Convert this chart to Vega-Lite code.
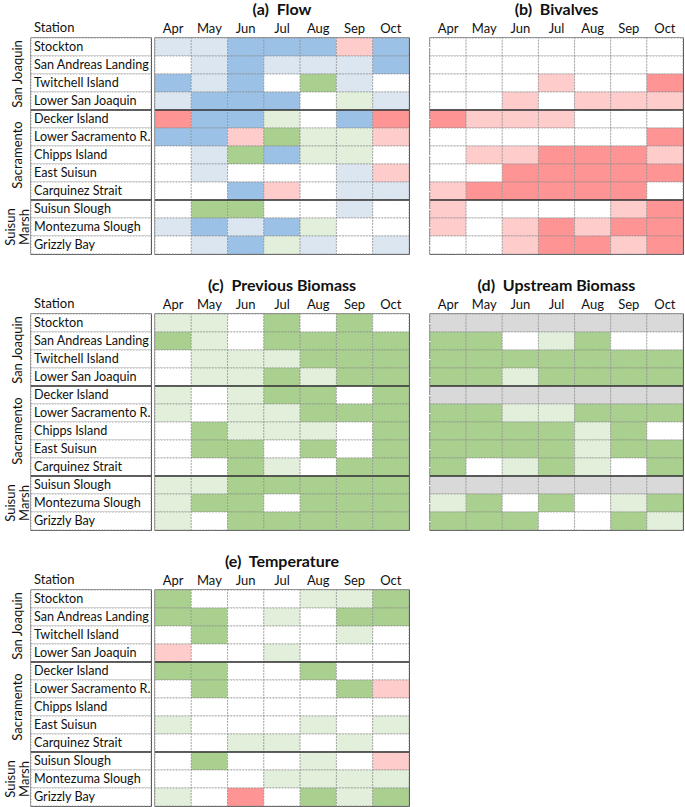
{
  "$schema": "https://vega.github.io/schema/vega-lite/v6.json",
  "padding": {"left": 3, "top": 1, "right": 0, "bottom": 0},
  "background": "white",
  "config": {
    "font": "Lato",
    "view": {"stroke": "#333333", "strokeWidth": 1.3},
    "scale": {"bandPaddingInner": 0, "bandPaddingOuter": 0},
    "axis": {"labelFont": "Lato", "labelColor": "#111111", "labelFontSize": 13, "domain": false, "ticks": false, "grid": false, "title": null},
    "title": {"font": "Lato", "fontSize": 16, "fontWeight": "bold", "color": "#111111", "offset": 4}
  },
  "datasets": {
    "stations": [
      {"s": "Stockton"}, {"s": "San Andreas Landing"}, {"s": "Twitchell Island"}, {"s": "Lower San Joaquin"},
      {"s": "Decker Island"}, {"s": "Lower Sacramento R."}, {"s": "Chipps Island"}, {"s": "East Suisun"},
      {"s": "Carquinez Strait"}, {"s": "Suisun Slough"}, {"s": "Montezuma Slough"}, {"s": "Grizzly Bay"}
    ],
    "flow": [
      {"s":"Stockton","m":"Apr","c":"B1"},{"s":"Stockton","m":"May","c":"B1"},{"s":"Stockton","m":"Jun","c":"B2"},{"s":"Stockton","m":"Jul","c":"B2"},{"s":"Stockton","m":"Aug","c":"B2"},{"s":"Stockton","m":"Sep","c":"R1"},{"s":"Stockton","m":"Oct","c":"B2"},
      {"s":"San Andreas Landing","m":"Apr","c":"N"},{"s":"San Andreas Landing","m":"May","c":"B1"},{"s":"San Andreas Landing","m":"Jun","c":"B2"},{"s":"San Andreas Landing","m":"Jul","c":"B1"},{"s":"San Andreas Landing","m":"Aug","c":"B1"},{"s":"San Andreas Landing","m":"Sep","c":"B1"},{"s":"San Andreas Landing","m":"Oct","c":"B2"},
      {"s":"Twitchell Island","m":"Apr","c":"B2"},{"s":"Twitchell Island","m":"May","c":"B1"},{"s":"Twitchell Island","m":"Jun","c":"B2"},{"s":"Twitchell Island","m":"Jul","c":"N"},{"s":"Twitchell Island","m":"Aug","c":"G2"},{"s":"Twitchell Island","m":"Sep","c":"B1"},{"s":"Twitchell Island","m":"Oct","c":"N"},
      {"s":"Lower San Joaquin","m":"Apr","c":"B1"},{"s":"Lower San Joaquin","m":"May","c":"B2"},{"s":"Lower San Joaquin","m":"Jun","c":"B2"},{"s":"Lower San Joaquin","m":"Jul","c":"B2"},{"s":"Lower San Joaquin","m":"Aug","c":"N"},{"s":"Lower San Joaquin","m":"Sep","c":"G1"},{"s":"Lower San Joaquin","m":"Oct","c":"B1"},
      {"s":"Decker Island","m":"Apr","c":"R2"},{"s":"Decker Island","m":"May","c":"B2"},{"s":"Decker Island","m":"Jun","c":"B2"},{"s":"Decker Island","m":"Jul","c":"G1"},{"s":"Decker Island","m":"Aug","c":"N"},{"s":"Decker Island","m":"Sep","c":"B2"},{"s":"Decker Island","m":"Oct","c":"R2"},
      {"s":"Lower Sacramento R.","m":"Apr","c":"B2"},{"s":"Lower Sacramento R.","m":"May","c":"B2"},{"s":"Lower Sacramento R.","m":"Jun","c":"R1"},{"s":"Lower Sacramento R.","m":"Jul","c":"G2"},{"s":"Lower Sacramento R.","m":"Aug","c":"G1"},{"s":"Lower Sacramento R.","m":"Sep","c":"G1"},{"s":"Lower Sacramento R.","m":"Oct","c":"R1"},
      {"s":"Chipps Island","m":"Apr","c":"N"},{"s":"Chipps Island","m":"May","c":"B1"},{"s":"Chipps Island","m":"Jun","c":"G2"},{"s":"Chipps Island","m":"Jul","c":"B2"},{"s":"Chipps Island","m":"Aug","c":"G1"},{"s":"Chipps Island","m":"Sep","c":"G1"},{"s":"Chipps Island","m":"Oct","c":"N"},
      {"s":"East Suisun","m":"Apr","c":"N"},{"s":"East Suisun","m":"May","c":"B1"},{"s":"East Suisun","m":"Jun","c":"N"},{"s":"East Suisun","m":"Jul","c":"N"},{"s":"East Suisun","m":"Aug","c":"N"},{"s":"East Suisun","m":"Sep","c":"B1"},{"s":"East Suisun","m":"Oct","c":"R1"},
      {"s":"Carquinez Strait","m":"Apr","c":"N"},{"s":"Carquinez Strait","m":"May","c":"N"},{"s":"Carquinez Strait","m":"Jun","c":"B2"},{"s":"Carquinez Strait","m":"Jul","c":"R1"},{"s":"Carquinez Strait","m":"Aug","c":"N"},{"s":"Carquinez Strait","m":"Sep","c":"B1"},{"s":"Carquinez Strait","m":"Oct","c":"B1"},
      {"s":"Suisun Slough","m":"Apr","c":"N"},{"s":"Suisun Slough","m":"May","c":"G2"},{"s":"Suisun Slough","m":"Jun","c":"G2"},{"s":"Suisun Slough","m":"Jul","c":"N"},{"s":"Suisun Slough","m":"Aug","c":"N"},{"s":"Suisun Slough","m":"Sep","c":"B1"},{"s":"Suisun Slough","m":"Oct","c":"N"},
      {"s":"Montezuma Slough","m":"Apr","c":"B1"},{"s":"Montezuma Slough","m":"May","c":"B2"},{"s":"Montezuma Slough","m":"Jun","c":"B1"},{"s":"Montezuma Slough","m":"Jul","c":"B2"},{"s":"Montezuma Slough","m":"Aug","c":"G1"},{"s":"Montezuma Slough","m":"Sep","c":"N"},{"s":"Montezuma Slough","m":"Oct","c":"N"},
      {"s":"Grizzly Bay","m":"Apr","c":"N"},{"s":"Grizzly Bay","m":"May","c":"B1"},{"s":"Grizzly Bay","m":"Jun","c":"B2"},{"s":"Grizzly Bay","m":"Jul","c":"G1"},{"s":"Grizzly Bay","m":"Aug","c":"B1"},{"s":"Grizzly Bay","m":"Sep","c":"N"},{"s":"Grizzly Bay","m":"Oct","c":"B1"}
    ],
    "bivalves": [
      {"s":"Stockton","m":"Apr","c":"N"},{"s":"Stockton","m":"May","c":"N"},{"s":"Stockton","m":"Jun","c":"N"},{"s":"Stockton","m":"Jul","c":"N"},{"s":"Stockton","m":"Aug","c":"N"},{"s":"Stockton","m":"Sep","c":"N"},{"s":"Stockton","m":"Oct","c":"N"},
      {"s":"San Andreas Landing","m":"Apr","c":"N"},{"s":"San Andreas Landing","m":"May","c":"N"},{"s":"San Andreas Landing","m":"Jun","c":"N"},{"s":"San Andreas Landing","m":"Jul","c":"N"},{"s":"San Andreas Landing","m":"Aug","c":"N"},{"s":"San Andreas Landing","m":"Sep","c":"N"},{"s":"San Andreas Landing","m":"Oct","c":"N"},
      {"s":"Twitchell Island","m":"Apr","c":"N"},{"s":"Twitchell Island","m":"May","c":"N"},{"s":"Twitchell Island","m":"Jun","c":"N"},{"s":"Twitchell Island","m":"Jul","c":"R1"},{"s":"Twitchell Island","m":"Aug","c":"N"},{"s":"Twitchell Island","m":"Sep","c":"N"},{"s":"Twitchell Island","m":"Oct","c":"R2"},
      {"s":"Lower San Joaquin","m":"Apr","c":"N"},{"s":"Lower San Joaquin","m":"May","c":"N"},{"s":"Lower San Joaquin","m":"Jun","c":"R1"},{"s":"Lower San Joaquin","m":"Jul","c":"N"},{"s":"Lower San Joaquin","m":"Aug","c":"R1"},{"s":"Lower San Joaquin","m":"Sep","c":"R1"},{"s":"Lower San Joaquin","m":"Oct","c":"R1"},
      {"s":"Decker Island","m":"Apr","c":"R2"},{"s":"Decker Island","m":"May","c":"R1"},{"s":"Decker Island","m":"Jun","c":"R1"},{"s":"Decker Island","m":"Jul","c":"R1"},{"s":"Decker Island","m":"Aug","c":"N"},{"s":"Decker Island","m":"Sep","c":"N"},{"s":"Decker Island","m":"Oct","c":"N"},
      {"s":"Lower Sacramento R.","m":"Apr","c":"N"},{"s":"Lower Sacramento R.","m":"May","c":"N"},{"s":"Lower Sacramento R.","m":"Jun","c":"N"},{"s":"Lower Sacramento R.","m":"Jul","c":"N"},{"s":"Lower Sacramento R.","m":"Aug","c":"N"},{"s":"Lower Sacramento R.","m":"Sep","c":"N"},{"s":"Lower Sacramento R.","m":"Oct","c":"R2"},
      {"s":"Chipps Island","m":"Apr","c":"N"},{"s":"Chipps Island","m":"May","c":"R1"},{"s":"Chipps Island","m":"Jun","c":"R1"},{"s":"Chipps Island","m":"Jul","c":"R2"},{"s":"Chipps Island","m":"Aug","c":"R2"},{"s":"Chipps Island","m":"Sep","c":"R2"},{"s":"Chipps Island","m":"Oct","c":"R1"},
      {"s":"East Suisun","m":"Apr","c":"N"},{"s":"East Suisun","m":"May","c":"N"},{"s":"East Suisun","m":"Jun","c":"R2"},{"s":"East Suisun","m":"Jul","c":"R2"},{"s":"East Suisun","m":"Aug","c":"R2"},{"s":"East Suisun","m":"Sep","c":"R2"},{"s":"East Suisun","m":"Oct","c":"R2"},
      {"s":"Carquinez Strait","m":"Apr","c":"R1"},{"s":"Carquinez Strait","m":"May","c":"R2"},{"s":"Carquinez Strait","m":"Jun","c":"R2"},{"s":"Carquinez Strait","m":"Jul","c":"R2"},{"s":"Carquinez Strait","m":"Aug","c":"R2"},{"s":"Carquinez Strait","m":"Sep","c":"R2"},{"s":"Carquinez Strait","m":"Oct","c":"N"},
      {"s":"Suisun Slough","m":"Apr","c":"R1"},{"s":"Suisun Slough","m":"May","c":"N"},{"s":"Suisun Slough","m":"Jun","c":"N"},{"s":"Suisun Slough","m":"Jul","c":"N"},{"s":"Suisun Slough","m":"Aug","c":"N"},{"s":"Suisun Slough","m":"Sep","c":"R1"},{"s":"Suisun Slough","m":"Oct","c":"R2"},
      {"s":"Montezuma Slough","m":"Apr","c":"R1"},{"s":"Montezuma Slough","m":"May","c":"N"},{"s":"Montezuma Slough","m":"Jun","c":"R1"},{"s":"Montezuma Slough","m":"Jul","c":"R2"},{"s":"Montezuma Slough","m":"Aug","c":"R1"},{"s":"Montezuma Slough","m":"Sep","c":"R2"},{"s":"Montezuma Slough","m":"Oct","c":"R2"},
      {"s":"Grizzly Bay","m":"Apr","c":"N"},{"s":"Grizzly Bay","m":"May","c":"N"},{"s":"Grizzly Bay","m":"Jun","c":"R1"},{"s":"Grizzly Bay","m":"Jul","c":"R2"},{"s":"Grizzly Bay","m":"Aug","c":"R2"},{"s":"Grizzly Bay","m":"Sep","c":"R1"},{"s":"Grizzly Bay","m":"Oct","c":"R2"}
    ],
    "previous": [
      {"s":"Stockton","m":"Apr","c":"G1"},{"s":"Stockton","m":"May","c":"G1"},{"s":"Stockton","m":"Jun","c":"N"},{"s":"Stockton","m":"Jul","c":"G2"},{"s":"Stockton","m":"Aug","c":"N"},{"s":"Stockton","m":"Sep","c":"G2"},{"s":"Stockton","m":"Oct","c":"N"},
      {"s":"San Andreas Landing","m":"Apr","c":"G2"},{"s":"San Andreas Landing","m":"May","c":"G1"},{"s":"San Andreas Landing","m":"Jun","c":"N"},{"s":"San Andreas Landing","m":"Jul","c":"G2"},{"s":"San Andreas Landing","m":"Aug","c":"G2"},{"s":"San Andreas Landing","m":"Sep","c":"G2"},{"s":"San Andreas Landing","m":"Oct","c":"G2"},
      {"s":"Twitchell Island","m":"Apr","c":"N"},{"s":"Twitchell Island","m":"May","c":"G1"},{"s":"Twitchell Island","m":"Jun","c":"G1"},{"s":"Twitchell Island","m":"Jul","c":"G1"},{"s":"Twitchell Island","m":"Aug","c":"G2"},{"s":"Twitchell Island","m":"Sep","c":"G2"},{"s":"Twitchell Island","m":"Oct","c":"G2"},
      {"s":"Lower San Joaquin","m":"Apr","c":"N"},{"s":"Lower San Joaquin","m":"May","c":"G1"},{"s":"Lower San Joaquin","m":"Jun","c":"G1"},{"s":"Lower San Joaquin","m":"Jul","c":"G2"},{"s":"Lower San Joaquin","m":"Aug","c":"G1"},{"s":"Lower San Joaquin","m":"Sep","c":"G2"},{"s":"Lower San Joaquin","m":"Oct","c":"G2"},
      {"s":"Decker Island","m":"Apr","c":"G1"},{"s":"Decker Island","m":"May","c":"N"},{"s":"Decker Island","m":"Jun","c":"G1"},{"s":"Decker Island","m":"Jul","c":"G2"},{"s":"Decker Island","m":"Aug","c":"G2"},{"s":"Decker Island","m":"Sep","c":"N"},{"s":"Decker Island","m":"Oct","c":"G2"},
      {"s":"Lower Sacramento R.","m":"Apr","c":"G1"},{"s":"Lower Sacramento R.","m":"May","c":"N"},{"s":"Lower Sacramento R.","m":"Jun","c":"G1"},{"s":"Lower Sacramento R.","m":"Jul","c":"G1"},{"s":"Lower Sacramento R.","m":"Aug","c":"G2"},{"s":"Lower Sacramento R.","m":"Sep","c":"G2"},{"s":"Lower Sacramento R.","m":"Oct","c":"G2"},
      {"s":"Chipps Island","m":"Apr","c":"N"},{"s":"Chipps Island","m":"May","c":"G2"},{"s":"Chipps Island","m":"Jun","c":"G1"},{"s":"Chipps Island","m":"Jul","c":"G1"},{"s":"Chipps Island","m":"Aug","c":"G1"},{"s":"Chipps Island","m":"Sep","c":"N"},{"s":"Chipps Island","m":"Oct","c":"G2"},
      {"s":"East Suisun","m":"Apr","c":"N"},{"s":"East Suisun","m":"May","c":"G2"},{"s":"East Suisun","m":"Jun","c":"G2"},{"s":"East Suisun","m":"Jul","c":"N"},{"s":"East Suisun","m":"Aug","c":"G2"},{"s":"East Suisun","m":"Sep","c":"N"},{"s":"East Suisun","m":"Oct","c":"G2"},
      {"s":"Carquinez Strait","m":"Apr","c":"N"},{"s":"Carquinez Strait","m":"May","c":"N"},{"s":"Carquinez Strait","m":"Jun","c":"G2"},{"s":"Carquinez Strait","m":"Jul","c":"G1"},{"s":"Carquinez Strait","m":"Aug","c":"N"},{"s":"Carquinez Strait","m":"Sep","c":"G2"},{"s":"Carquinez Strait","m":"Oct","c":"G2"},
      {"s":"Suisun Slough","m":"Apr","c":"G1"},{"s":"Suisun Slough","m":"May","c":"G1"},{"s":"Suisun Slough","m":"Jun","c":"G2"},{"s":"Suisun Slough","m":"Jul","c":"G2"},{"s":"Suisun Slough","m":"Aug","c":"G2"},{"s":"Suisun Slough","m":"Sep","c":"G2"},{"s":"Suisun Slough","m":"Oct","c":"G2"},
      {"s":"Montezuma Slough","m":"Apr","c":"G1"},{"s":"Montezuma Slough","m":"May","c":"G2"},{"s":"Montezuma Slough","m":"Jun","c":"G2"},{"s":"Montezuma Slough","m":"Jul","c":"N"},{"s":"Montezuma Slough","m":"Aug","c":"G2"},{"s":"Montezuma Slough","m":"Sep","c":"G2"},{"s":"Montezuma Slough","m":"Oct","c":"G2"},
      {"s":"Grizzly Bay","m":"Apr","c":"G1"},{"s":"Grizzly Bay","m":"May","c":"N"},{"s":"Grizzly Bay","m":"Jun","c":"G2"},{"s":"Grizzly Bay","m":"Jul","c":"G2"},{"s":"Grizzly Bay","m":"Aug","c":"G2"},{"s":"Grizzly Bay","m":"Sep","c":"G2"},{"s":"Grizzly Bay","m":"Oct","c":"G2"}
    ],
    "upstream": [
      {"s":"Stockton","m":"Apr","c":"X"},{"s":"Stockton","m":"May","c":"X"},{"s":"Stockton","m":"Jun","c":"X"},{"s":"Stockton","m":"Jul","c":"X"},{"s":"Stockton","m":"Aug","c":"X"},{"s":"Stockton","m":"Sep","c":"X"},{"s":"Stockton","m":"Oct","c":"X"},
      {"s":"San Andreas Landing","m":"Apr","c":"G2"},{"s":"San Andreas Landing","m":"May","c":"G2"},{"s":"San Andreas Landing","m":"Jun","c":"N"},{"s":"San Andreas Landing","m":"Jul","c":"G1"},{"s":"San Andreas Landing","m":"Aug","c":"G2"},{"s":"San Andreas Landing","m":"Sep","c":"N"},{"s":"San Andreas Landing","m":"Oct","c":"N"},
      {"s":"Twitchell Island","m":"Apr","c":"G2"},{"s":"Twitchell Island","m":"May","c":"G2"},{"s":"Twitchell Island","m":"Jun","c":"G2"},{"s":"Twitchell Island","m":"Jul","c":"G2"},{"s":"Twitchell Island","m":"Aug","c":"G2"},{"s":"Twitchell Island","m":"Sep","c":"G2"},{"s":"Twitchell Island","m":"Oct","c":"G2"},
      {"s":"Lower San Joaquin","m":"Apr","c":"G2"},{"s":"Lower San Joaquin","m":"May","c":"G2"},{"s":"Lower San Joaquin","m":"Jun","c":"G1"},{"s":"Lower San Joaquin","m":"Jul","c":"G2"},{"s":"Lower San Joaquin","m":"Aug","c":"G2"},{"s":"Lower San Joaquin","m":"Sep","c":"G2"},{"s":"Lower San Joaquin","m":"Oct","c":"G2"},
      {"s":"Decker Island","m":"Apr","c":"X"},{"s":"Decker Island","m":"May","c":"X"},{"s":"Decker Island","m":"Jun","c":"X"},{"s":"Decker Island","m":"Jul","c":"X"},{"s":"Decker Island","m":"Aug","c":"X"},{"s":"Decker Island","m":"Sep","c":"X"},{"s":"Decker Island","m":"Oct","c":"X"},
      {"s":"Lower Sacramento R.","m":"Apr","c":"G2"},{"s":"Lower Sacramento R.","m":"May","c":"G2"},{"s":"Lower Sacramento R.","m":"Jun","c":"G1"},{"s":"Lower Sacramento R.","m":"Jul","c":"G1"},{"s":"Lower Sacramento R.","m":"Aug","c":"G2"},{"s":"Lower Sacramento R.","m":"Sep","c":"G2"},{"s":"Lower Sacramento R.","m":"Oct","c":"G2"},
      {"s":"Chipps Island","m":"Apr","c":"G2"},{"s":"Chipps Island","m":"May","c":"G2"},{"s":"Chipps Island","m":"Jun","c":"G2"},{"s":"Chipps Island","m":"Jul","c":"G2"},{"s":"Chipps Island","m":"Aug","c":"G1"},{"s":"Chipps Island","m":"Sep","c":"G2"},{"s":"Chipps Island","m":"Oct","c":"N"},
      {"s":"East Suisun","m":"Apr","c":"G2"},{"s":"East Suisun","m":"May","c":"G2"},{"s":"East Suisun","m":"Jun","c":"G2"},{"s":"East Suisun","m":"Jul","c":"G2"},{"s":"East Suisun","m":"Aug","c":"G1"},{"s":"East Suisun","m":"Sep","c":"G2"},{"s":"East Suisun","m":"Oct","c":"G2"},
      {"s":"Carquinez Strait","m":"Apr","c":"G2"},{"s":"Carquinez Strait","m":"May","c":"N"},{"s":"Carquinez Strait","m":"Jun","c":"G1"},{"s":"Carquinez Strait","m":"Jul","c":"G2"},{"s":"Carquinez Strait","m":"Aug","c":"G1"},{"s":"Carquinez Strait","m":"Sep","c":"N"},{"s":"Carquinez Strait","m":"Oct","c":"G2"},
      {"s":"Suisun Slough","m":"Apr","c":"X"},{"s":"Suisun Slough","m":"May","c":"X"},{"s":"Suisun Slough","m":"Jun","c":"X"},{"s":"Suisun Slough","m":"Jul","c":"X"},{"s":"Suisun Slough","m":"Aug","c":"X"},{"s":"Suisun Slough","m":"Sep","c":"X"},{"s":"Suisun Slough","m":"Oct","c":"X"},
      {"s":"Montezuma Slough","m":"Apr","c":"G1"},{"s":"Montezuma Slough","m":"May","c":"G2"},{"s":"Montezuma Slough","m":"Jun","c":"N"},{"s":"Montezuma Slough","m":"Jul","c":"G2"},{"s":"Montezuma Slough","m":"Aug","c":"N"},{"s":"Montezuma Slough","m":"Sep","c":"G1"},{"s":"Montezuma Slough","m":"Oct","c":"G2"},
      {"s":"Grizzly Bay","m":"Apr","c":"G2"},{"s":"Grizzly Bay","m":"May","c":"G2"},{"s":"Grizzly Bay","m":"Jun","c":"G2"},{"s":"Grizzly Bay","m":"Jul","c":"N"},{"s":"Grizzly Bay","m":"Aug","c":"N"},{"s":"Grizzly Bay","m":"Sep","c":"G2"},{"s":"Grizzly Bay","m":"Oct","c":"G1"}
    ],
    "temperature": [
      {"s":"Stockton","m":"Apr","c":"G2"},{"s":"Stockton","m":"May","c":"N"},{"s":"Stockton","m":"Jun","c":"N"},{"s":"Stockton","m":"Jul","c":"N"},{"s":"Stockton","m":"Aug","c":"G1"},{"s":"Stockton","m":"Sep","c":"G1"},{"s":"Stockton","m":"Oct","c":"G2"},
      {"s":"San Andreas Landing","m":"Apr","c":"G2"},{"s":"San Andreas Landing","m":"May","c":"G2"},{"s":"San Andreas Landing","m":"Jun","c":"N"},{"s":"San Andreas Landing","m":"Jul","c":"G1"},{"s":"San Andreas Landing","m":"Aug","c":"N"},{"s":"San Andreas Landing","m":"Sep","c":"G2"},{"s":"San Andreas Landing","m":"Oct","c":"G2"},
      {"s":"Twitchell Island","m":"Apr","c":"N"},{"s":"Twitchell Island","m":"May","c":"G2"},{"s":"Twitchell Island","m":"Jun","c":"N"},{"s":"Twitchell Island","m":"Jul","c":"N"},{"s":"Twitchell Island","m":"Aug","c":"N"},{"s":"Twitchell Island","m":"Sep","c":"G1"},{"s":"Twitchell Island","m":"Oct","c":"N"},
      {"s":"Lower San Joaquin","m":"Apr","c":"R1"},{"s":"Lower San Joaquin","m":"May","c":"N"},{"s":"Lower San Joaquin","m":"Jun","c":"N"},{"s":"Lower San Joaquin","m":"Jul","c":"G1"},{"s":"Lower San Joaquin","m":"Aug","c":"N"},{"s":"Lower San Joaquin","m":"Sep","c":"N"},{"s":"Lower San Joaquin","m":"Oct","c":"N"},
      {"s":"Decker Island","m":"Apr","c":"G2"},{"s":"Decker Island","m":"May","c":"G2"},{"s":"Decker Island","m":"Jun","c":"N"},{"s":"Decker Island","m":"Jul","c":"N"},{"s":"Decker Island","m":"Aug","c":"G2"},{"s":"Decker Island","m":"Sep","c":"N"},{"s":"Decker Island","m":"Oct","c":"N"},
      {"s":"Lower Sacramento R.","m":"Apr","c":"N"},{"s":"Lower Sacramento R.","m":"May","c":"G2"},{"s":"Lower Sacramento R.","m":"Jun","c":"N"},{"s":"Lower Sacramento R.","m":"Jul","c":"N"},{"s":"Lower Sacramento R.","m":"Aug","c":"N"},{"s":"Lower Sacramento R.","m":"Sep","c":"G2"},{"s":"Lower Sacramento R.","m":"Oct","c":"R1"},
      {"s":"Chipps Island","m":"Apr","c":"N"},{"s":"Chipps Island","m":"May","c":"N"},{"s":"Chipps Island","m":"Jun","c":"N"},{"s":"Chipps Island","m":"Jul","c":"N"},{"s":"Chipps Island","m":"Aug","c":"N"},{"s":"Chipps Island","m":"Sep","c":"N"},{"s":"Chipps Island","m":"Oct","c":"N"},
      {"s":"East Suisun","m":"Apr","c":"G1"},{"s":"East Suisun","m":"May","c":"N"},{"s":"East Suisun","m":"Jun","c":"N"},{"s":"East Suisun","m":"Jul","c":"N"},{"s":"East Suisun","m":"Aug","c":"G1"},{"s":"East Suisun","m":"Sep","c":"N"},{"s":"East Suisun","m":"Oct","c":"G1"},
      {"s":"Carquinez Strait","m":"Apr","c":"N"},{"s":"Carquinez Strait","m":"May","c":"N"},{"s":"Carquinez Strait","m":"Jun","c":"G1"},{"s":"Carquinez Strait","m":"Jul","c":"G1"},{"s":"Carquinez Strait","m":"Aug","c":"N"},{"s":"Carquinez Strait","m":"Sep","c":"G1"},{"s":"Carquinez Strait","m":"Oct","c":"N"},
      {"s":"Suisun Slough","m":"Apr","c":"N"},{"s":"Suisun Slough","m":"May","c":"G2"},{"s":"Suisun Slough","m":"Jun","c":"N"},{"s":"Suisun Slough","m":"Jul","c":"N"},{"s":"Suisun Slough","m":"Aug","c":"G1"},{"s":"Suisun Slough","m":"Sep","c":"N"},{"s":"Suisun Slough","m":"Oct","c":"R1"},
      {"s":"Montezuma Slough","m":"Apr","c":"N"},{"s":"Montezuma Slough","m":"May","c":"N"},{"s":"Montezuma Slough","m":"Jun","c":"N"},{"s":"Montezuma Slough","m":"Jul","c":"G1"},{"s":"Montezuma Slough","m":"Aug","c":"G1"},{"s":"Montezuma Slough","m":"Sep","c":"G1"},{"s":"Montezuma Slough","m":"Oct","c":"G1"},
      {"s":"Grizzly Bay","m":"Apr","c":"G1"},{"s":"Grizzly Bay","m":"May","c":"N"},{"s":"Grizzly Bay","m":"Jun","c":"R2"},{"s":"Grizzly Bay","m":"Jul","c":"N"},{"s":"Grizzly Bay","m":"Aug","c":"G2"},{"s":"Grizzly Bay","m":"Sep","c":"G1"},{"s":"Grizzly Bay","m":"Oct","c":"G2"}
    ]
  },
  "columns": 3,
  "align": "each",
  "spacing": {"row": 21, "column": 0},
  "concat": [
    {
      "data": {"name": "stations"},
      "width": 120, "height": 216,
      "title": {"text": "Station", "anchor": "start", "frame": "group", "fontSize": 13, "fontWeight": "normal", "dx": 3, "offset": 3},
      "layer": [
        {"mark": {"type": "rect", "fill": "white", "stroke": "#8c8c8c", "strokeDash": [1.5, 1.5], "strokeWidth": 0.8},
         "encoding": {"y": {"field": "s", "type": "nominal",
           "scale": {"domain": ["Stockton","San Andreas Landing","Twitchell Island","Lower San Joaquin","Decker Island","Lower Sacramento R.","Chipps Island","East Suisun","Carquinez Strait","Suisun Slough","Montezuma Slough","Grizzly Bay"]},
           "axis": {"orient": "left", "labelExpr": "datum.value == 'Twitchell Island' ? 'San Joaquin' : datum.value == 'Chipps Island' ? 'Sacramento' : datum.value == 'Montezuma Slough' ? ['Suisun', 'Marsh'] : ''",
             "labelAngle": 270, "labelAlign": "center", "labelBaseline": "middle", "labelLineHeight": 14,
             "labelPadding": {"condition": {"test": "datum.value == 'Montezuma Slough'", "value": 21}, "value": 14},
             "labelOffset": {"condition": {"test": "datum.value == 'Twitchell Island'", "value": -9}, "value": 0},
             "labelOverlap": false, "labelBound": false}}}},
        {"transform": [{"filter": "datum.s == 'Decker Island' || datum.s == 'Suisun Slough'"}],
         "mark": {"type": "rule", "color": "#333333", "strokeWidth": 1.3},
         "encoding": {"y": {"field": "s", "type": "nominal", "bandPosition": 0}}},
        {"mark": {"type": "text", "align": "left", "baseline": "middle", "dx": 3, "fontSize": 12.6, "color": "#111111"},
         "encoding": {"y": {"field": "s", "type": "nominal"},
           "x": {"datum": 0, "type": "quantitative", "scale": {"domain": [0, 1]}, "axis": null},
           "text": {"field": "s"}}}
      ]
    },
    {
      "data": {"name": "flow"},
      "width": 254, "height": 216,
      "title": {"text": "(a)\u00a0\u00a0Flow"},
      "layer": [
        {"mark": {"type": "rect", "stroke": "#8c8c8c", "strokeDash": [1.5, 1.5], "strokeWidth": 0.8},
         "encoding": {
           "x": {"field": "m", "type": "nominal", "scale": {"domain": ["Apr","May","Jun","Jul","Aug","Sep","Oct"]}, "axis": {"orient": "top", "labelAngle": 0, "labelPadding": 3}},
           "y": {"field": "s", "type": "nominal", "scale": {"domain": ["Stockton","San Andreas Landing","Twitchell Island","Lower San Joaquin","Decker Island","Lower Sacramento R.","Chipps Island","East Suisun","Carquinez Strait","Suisun Slough","Montezuma Slough","Grizzly Bay"]}, "axis": null},
           "fill": {"field": "c", "type": "nominal", "scale": {"domain": ["N","B1","B2","G1","G2","R1","R2","X"], "range": ["#ffffff","#dce6f1","#9bc2e6","#e2efda","#a9d08e","#ffcccc","#ff9494","#d9d9d9"]}, "legend": null}}},
        {"transform": [{"filter": "(datum.s == 'Decker Island' || datum.s == 'Suisun Slough') && datum.m == 'Apr'"}],
         "mark": {"type": "rule", "color": "#333333", "strokeWidth": 1.3},
         "encoding": {"y": {"field": "s", "type": "nominal", "bandPosition": 0}}}
      ]
    },
    {
      "data": {"name": "bivalves"},
      "width": 253, "height": 216,
      "title": {"text": "(b)\u00a0\u00a0Bivalves"},
      "layer": [
        {"mark": {"type": "rect", "stroke": "#8c8c8c", "strokeDash": [1.5, 1.5], "strokeWidth": 0.8},
         "encoding": {
           "x": {"field": "m", "type": "nominal", "scale": {"domain": ["Apr","May","Jun","Jul","Aug","Sep","Oct"]}, "axis": {"orient": "top", "labelAngle": 0, "labelPadding": 3}},
           "y": {"field": "s", "type": "nominal", "scale": {"domain": ["Stockton","San Andreas Landing","Twitchell Island","Lower San Joaquin","Decker Island","Lower Sacramento R.","Chipps Island","East Suisun","Carquinez Strait","Suisun Slough","Montezuma Slough","Grizzly Bay"]}, "axis": {"labels": false, "ticks": true, "tickSize": 17, "tickColor": "#ffffff"}},
           "fill": {"field": "c", "type": "nominal", "scale": {"domain": ["N","B1","B2","G1","G2","R1","R2","X"], "range": ["#ffffff","#dce6f1","#9bc2e6","#e2efda","#a9d08e","#ffcccc","#ff9494","#d9d9d9"]}, "legend": null}}},
        {"transform": [{"filter": "(datum.s == 'Decker Island' || datum.s == 'Suisun Slough') && datum.m == 'Apr'"}],
         "mark": {"type": "rule", "color": "#333333", "strokeWidth": 1.3},
         "encoding": {"y": {"field": "s", "type": "nominal", "bandPosition": 0}}}
      ]
    },
    {
      "data": {"name": "stations"},
      "width": 120, "height": 216,
      "title": {"text": "Station", "anchor": "start", "frame": "group", "fontSize": 13, "fontWeight": "normal", "dx": 3, "offset": 3},
      "layer": [
        {"mark": {"type": "rect", "fill": "white", "stroke": "#8c8c8c", "strokeDash": [1.5, 1.5], "strokeWidth": 0.8},
         "encoding": {"y": {"field": "s", "type": "nominal",
           "scale": {"domain": ["Stockton","San Andreas Landing","Twitchell Island","Lower San Joaquin","Decker Island","Lower Sacramento R.","Chipps Island","East Suisun","Carquinez Strait","Suisun Slough","Montezuma Slough","Grizzly Bay"]},
           "axis": {"orient": "left", "labelExpr": "datum.value == 'Twitchell Island' ? 'San Joaquin' : datum.value == 'Chipps Island' ? 'Sacramento' : datum.value == 'Montezuma Slough' ? ['Suisun', 'Marsh'] : ''",
             "labelAngle": 270, "labelAlign": "center", "labelBaseline": "middle", "labelLineHeight": 14,
             "labelPadding": {"condition": {"test": "datum.value == 'Montezuma Slough'", "value": 21}, "value": 14},
             "labelOffset": {"condition": {"test": "datum.value == 'Twitchell Island'", "value": -9}, "value": 0},
             "labelOverlap": false, "labelBound": false}}}},
        {"transform": [{"filter": "datum.s == 'Decker Island' || datum.s == 'Suisun Slough'"}],
         "mark": {"type": "rule", "color": "#333333", "strokeWidth": 1.3},
         "encoding": {"y": {"field": "s", "type": "nominal", "bandPosition": 0}}},
        {"mark": {"type": "text", "align": "left", "baseline": "middle", "dx": 3, "fontSize": 12.6, "color": "#111111"},
         "encoding": {"y": {"field": "s", "type": "nominal"},
           "x": {"datum": 0, "type": "quantitative", "scale": {"domain": [0, 1]}, "axis": null},
           "text": {"field": "s"}}}
      ]
    },
    {
      "data": {"name": "previous"},
      "width": 254, "height": 216,
      "title": {"text": "(c)\u00a0\u00a0Previous Biomass"},
      "layer": [
        {"mark": {"type": "rect", "stroke": "#8c8c8c", "strokeDash": [1.5, 1.5], "strokeWidth": 0.8},
         "encoding": {
           "x": {"field": "m", "type": "nominal", "scale": {"domain": ["Apr","May","Jun","Jul","Aug","Sep","Oct"]}, "axis": {"orient": "top", "labelAngle": 0, "labelPadding": 3}},
           "y": {"field": "s", "type": "nominal", "scale": {"domain": ["Stockton","San Andreas Landing","Twitchell Island","Lower San Joaquin","Decker Island","Lower Sacramento R.","Chipps Island","East Suisun","Carquinez Strait","Suisun Slough","Montezuma Slough","Grizzly Bay"]}, "axis": null},
           "fill": {"field": "c", "type": "nominal", "scale": {"domain": ["N","B1","B2","G1","G2","R1","R2","X"], "range": ["#ffffff","#dce6f1","#9bc2e6","#e2efda","#a9d08e","#ffcccc","#ff9494","#d9d9d9"]}, "legend": null}}},
        {"transform": [{"filter": "(datum.s == 'Decker Island' || datum.s == 'Suisun Slough') && datum.m == 'Apr'"}],
         "mark": {"type": "rule", "color": "#333333", "strokeWidth": 1.3},
         "encoding": {"y": {"field": "s", "type": "nominal", "bandPosition": 0}}}
      ]
    },
    {
      "data": {"name": "upstream"},
      "width": 253, "height": 216,
      "title": {"text": "(d)\u00a0\u00a0Upstream Biomass"},
      "layer": [
        {"mark": {"type": "rect", "stroke": "#8c8c8c", "strokeDash": [1.5, 1.5], "strokeWidth": 0.8},
         "encoding": {
           "x": {"field": "m", "type": "nominal", "scale": {"domain": ["Apr","May","Jun","Jul","Aug","Sep","Oct"]}, "axis": {"orient": "top", "labelAngle": 0, "labelPadding": 3}},
           "y": {"field": "s", "type": "nominal", "scale": {"domain": ["Stockton","San Andreas Landing","Twitchell Island","Lower San Joaquin","Decker Island","Lower Sacramento R.","Chipps Island","East Suisun","Carquinez Strait","Suisun Slough","Montezuma Slough","Grizzly Bay"]}, "axis": {"labels": false, "ticks": true, "tickSize": 17, "tickColor": "#ffffff"}},
           "fill": {"field": "c", "type": "nominal", "scale": {"domain": ["N","B1","B2","G1","G2","R1","R2","X"], "range": ["#ffffff","#dce6f1","#9bc2e6","#e2efda","#a9d08e","#ffcccc","#ff9494","#d9d9d9"]}, "legend": null}}},
        {"transform": [{"filter": "(datum.s == 'Decker Island' || datum.s == 'Suisun Slough') && datum.m == 'Apr'"}],
         "mark": {"type": "rule", "color": "#333333", "strokeWidth": 1.3},
         "encoding": {"y": {"field": "s", "type": "nominal", "bandPosition": 0}}}
      ]
    },
    {
      "data": {"name": "stations"},
      "width": 120, "height": 216,
      "title": {"text": "Station", "anchor": "start", "frame": "group", "fontSize": 13, "fontWeight": "normal", "dx": 3, "offset": 3},
      "layer": [
        {"mark": {"type": "rect", "fill": "white", "stroke": "#8c8c8c", "strokeDash": [1.5, 1.5], "strokeWidth": 0.8},
         "encoding": {"y": {"field": "s", "type": "nominal",
           "scale": {"domain": ["Stockton","San Andreas Landing","Twitchell Island","Lower San Joaquin","Decker Island","Lower Sacramento R.","Chipps Island","East Suisun","Carquinez Strait","Suisun Slough","Montezuma Slough","Grizzly Bay"]},
           "axis": {"orient": "left", "labelExpr": "datum.value == 'Twitchell Island' ? 'San Joaquin' : datum.value == 'Chipps Island' ? 'Sacramento' : datum.value == 'Montezuma Slough' ? ['Suisun', 'Marsh'] : ''",
             "labelAngle": 270, "labelAlign": "center", "labelBaseline": "middle", "labelLineHeight": 14,
             "labelPadding": {"condition": {"test": "datum.value == 'Montezuma Slough'", "value": 21}, "value": 14},
             "labelOffset": {"condition": {"test": "datum.value == 'Twitchell Island'", "value": -9}, "value": 0},
             "labelOverlap": false, "labelBound": false}}}},
        {"transform": [{"filter": "datum.s == 'Decker Island' || datum.s == 'Suisun Slough'"}],
         "mark": {"type": "rule", "color": "#333333", "strokeWidth": 1.3},
         "encoding": {"y": {"field": "s", "type": "nominal", "bandPosition": 0}}},
        {"mark": {"type": "text", "align": "left", "baseline": "middle", "dx": 3, "fontSize": 12.6, "color": "#111111"},
         "encoding": {"y": {"field": "s", "type": "nominal"},
           "x": {"datum": 0, "type": "quantitative", "scale": {"domain": [0, 1]}, "axis": null},
           "text": {"field": "s"}}}
      ]
    },
    {
      "data": {"name": "temperature"},
      "width": 254, "height": 216,
      "title": {"text": "(e)\u00a0\u00a0Temperature"},
      "layer": [
        {"mark": {"type": "rect", "stroke": "#8c8c8c", "strokeDash": [1.5, 1.5], "strokeWidth": 0.8},
         "encoding": {
           "x": {"field": "m", "type": "nominal", "scale": {"domain": ["Apr","May","Jun","Jul","Aug","Sep","Oct"]}, "axis": {"orient": "top", "labelAngle": 0, "labelPadding": 3}},
           "y": {"field": "s", "type": "nominal", "scale": {"domain": ["Stockton","San Andreas Landing","Twitchell Island","Lower San Joaquin","Decker Island","Lower Sacramento R.","Chipps Island","East Suisun","Carquinez Strait","Suisun Slough","Montezuma Slough","Grizzly Bay"]}, "axis": null},
           "fill": {"field": "c", "type": "nominal", "scale": {"domain": ["N","B1","B2","G1","G2","R1","R2","X"], "range": ["#ffffff","#dce6f1","#9bc2e6","#e2efda","#a9d08e","#ffcccc","#ff9494","#d9d9d9"]}, "legend": null}}},
        {"transform": [{"filter": "(datum.s == 'Decker Island' || datum.s == 'Suisun Slough') && datum.m == 'Apr'"}],
         "mark": {"type": "rule", "color": "#333333", "strokeWidth": 1.3},
         "encoding": {"y": {"field": "s", "type": "nominal", "bandPosition": 0}}}
      ]
    }
  ]
}
